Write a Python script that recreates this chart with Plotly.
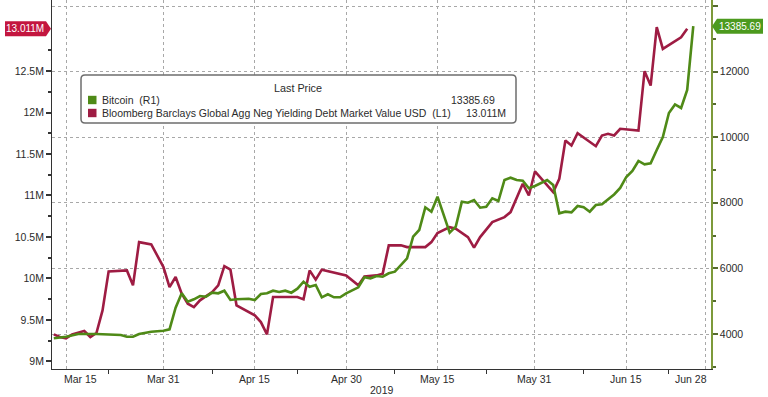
import plotly.graph_objects as go

# ---------------- data ----------------
btc_dates = [
    "2019-03-13", "2019-03-15", "2019-03-17", "2019-03-20", "2019-03-24", "2019-03-25",
    "2019-03-26", "2019-03-27", "2019-03-29", "2019-03-31", "2019-04-01", "2019-04-02",
    "2019-04-03", "2019-04-04", "2019-04-05", "2019-04-06", "2019-04-07", "2019-04-08",
    "2019-04-09", "2019-04-10", "2019-04-11", "2019-04-12", "2019-04-14", "2019-04-15",
    "2019-04-16", "2019-04-17", "2019-04-18", "2019-04-19", "2019-04-20", "2019-04-21",
    "2019-04-22", "2019-04-23", "2019-04-24", "2019-04-25", "2019-04-26", "2019-04-27",
    "2019-04-28", "2019-04-29", "2019-04-30", "2019-05-02", "2019-05-03", "2019-05-04",
    "2019-05-05", "2019-05-06", "2019-05-07", "2019-05-08", "2019-05-10", "2019-05-11",
    "2019-05-12", "2019-05-13", "2019-05-14", "2019-05-15", "2019-05-17", "2019-05-18",
    "2019-05-19", "2019-05-20", "2019-05-21", "2019-05-22", "2019-05-23", "2019-05-24",
    "2019-05-25", "2019-05-26", "2019-05-27", "2019-05-28", "2019-05-29", "2019-05-30",
    "2019-05-31", "2019-06-01", "2019-06-02", "2019-06-03", "2019-06-04", "2019-06-05",
    "2019-06-06", "2019-06-07", "2019-06-08", "2019-06-09", "2019-06-10", "2019-06-11",
    "2019-06-12", "2019-06-13", "2019-06-14", "2019-06-15", "2019-06-16", "2019-06-17",
    "2019-06-18", "2019-06-19", "2019-06-20", "2019-06-21", "2019-06-22", "2019-06-23",
    "2019-06-24", "2019-06-25", "2019-06-26",
]
btc_values = [
    3869, 3918, 4000, 4000, 3970, 3918,
    3918, 4000, 4070, 4101, 4143, 4800,
    5241, 4985, 5058, 5159, 5137, 5259,
    5241, 5320, 5037, 5058, 5076, 5037,
    5220, 5241, 5320, 5281, 5320, 5259,
    5381, 5595, 5442, 5494, 5119, 5210,
    5119, 5119, 5241, 5424, 5729, 5698,
    5768, 5747, 5851, 5900, 6308, 6967,
    7171, 7863, 7729, 8186, 7089, 7272,
    8034, 8003, 8086, 7851, 7881, 8138,
    8055, 8695, 8766, 8695, 8674, 8442,
    8513, 8604, 8695, 8543, 7680, 7729,
    7711, 7903, 7863, 7729, 7933, 7955,
    8107, 8253, 8452, 8787, 8970, 9275,
    9174, 9205, 9610, 10007, 10738, 10998,
    10891, 11440, 13385.69,
]

debt_dates = [
    "2019-03-13", "2019-03-14", "2019-03-15", "2019-03-16", "2019-03-18", "2019-03-19",
    "2019-03-20", "2019-03-21", "2019-03-22", "2019-03-25", "2019-03-26", "2019-03-27",
    "2019-03-29", "2019-03-31", "2019-04-01", "2019-04-02", "2019-04-03", "2019-04-04",
    "2019-04-05", "2019-04-06", "2019-04-08", "2019-04-09", "2019-04-10", "2019-04-11",
    "2019-04-12", "2019-04-15", "2019-04-16", "2019-04-17", "2019-04-18", "2019-04-22",
    "2019-04-23", "2019-04-24", "2019-04-25", "2019-04-26", "2019-04-30", "2019-05-02",
    "2019-05-03", "2019-05-05", "2019-05-06", "2019-05-07", "2019-05-09", "2019-05-10",
    "2019-05-13", "2019-05-14", "2019-05-15", "2019-05-17", "2019-05-18", "2019-05-20",
    "2019-05-21", "2019-05-22", "2019-05-24", "2019-05-26", "2019-05-27", "2019-05-29",
    "2019-05-30", "2019-05-31", "2019-06-03", "2019-06-04", "2019-06-05", "2019-06-06",
    "2019-06-07", "2019-06-10", "2019-06-11", "2019-06-12", "2019-06-13", "2019-06-14",
    "2019-06-17", "2019-06-18", "2019-06-19", "2019-06-20", "2019-06-21", "2019-06-24",
    "2019-06-25",
]
debt_values = [  # USD, shown with "M"
    9.325e6, 9.293e6, 9.277e6, 9.325e6, 9.365e6, 9.293e6,
    9.341e6, 9.614e6, 10.084e6, 10.096e6, 9.916e6, 10.437e6,
    10.410e6, 10.136e6, 9.895e6, 10.016e6, 9.816e6, 9.695e6,
    9.654e6, 9.735e6, 9.835e6, 9.916e6, 10.148e6, 10.105e6,
    9.675e6, 9.554e6, 9.473e6, 9.325e6, 9.775e6, 9.775e6,
    9.747e6, 10.096e6, 9.984e6, 10.105e6, 10.036e6, 9.916e6,
    10.024e6, 10.036e6, 10.057e6, 10.398e6, 10.398e6, 10.377e6,
    10.377e6, 10.437e6, 10.546e6, 10.618e6, 10.599e6, 10.498e6,
    10.370e6, 10.498e6, 10.678e6, 10.739e6, 10.799e6, 11.141e6,
    11.000e6, 11.289e6, 11.040e6, 11.201e6, 11.663e6, 11.602e6,
    11.751e6, 11.594e6, 11.723e6, 11.743e6, 11.723e6, 11.804e6,
    11.783e6, 12.498e6, 12.325e6, 13.030e6, 12.767e6, 12.907e6,
    13.011e6,
]

btc_name = "Bitcoin  (R1)"
debt_name = "Bloomberg Barclays Global Agg Neg Yielding Debt Market Value USD  (L1)"
btc_last_label = "13385.69"
debt_last_label = "13.011M"

x_tick_dates = ["2019-03-15", "2019-03-31", "2019-04-15", "2019-04-30",
                "2019-05-15", "2019-05-31", "2019-06-15", "2019-06-28"]
x_tick_labels = ["Mar 15", "Mar 31", "Apr 15", "Apr 30", "May 15", "May 31", "Jun 15", "Jun 28"]
x_minor_dates = ["2019-03-22", "2019-04-08", "2019-04-22", "2019-05-08",
                 "2019-05-23", "2019-06-08", "2019-06-22"]
year_label = "2019"

left_tickvals = [9.0e6, 9.5e6, 10.0e6, 10.5e6, 11.0e6, 11.5e6, 12.0e6, 12.5e6]
left_ticktext = ["9M", "9.5M", "10M", "10.5M", "11M", "11.5M", "12M", "12.5M"]
left_minor = [9.25e6, 9.75e6, 10.25e6, 10.75e6, 11.25e6, 11.75e6, 12.25e6, 12.75e6]
right_tickvals = [4000, 6000, 8000, 10000, 12000, 14000]
right_ticktext = ["4000", "6000", "8000", "10000", "12000", "14000"]
right_minor = [3000, 5000, 7000, 9000, 11000, 13000]

legend_header = "Last Price"

# ---------------- styling / layout ----------------
W, H = 768, 397
L, R, T, B = 52, 711, 0, 369  # plot area in pixels
FONT = "Liberation Sans, Arial, sans-serif"
TXT = "#2b2b2b"
GREEN = "#4f8a17"
RED = "#9e1c43"
TAG_GREEN = "#4c9a1e"
TAG_RED = "#c3163f"
GRID = "#a8a8a8"


def px(xp):
    return (xp - L) / (R - L)


def py(yp):
    return (B - yp) / (B - T)


fig = go.Figure()
fig.add_trace(go.Scatter(x=btc_dates, y=btc_values, yaxis="y2", mode="lines",
                         line=dict(color=GREEN, width=2.6), name=btc_name))
fig.add_trace(go.Scatter(x=debt_dates, y=debt_values, yaxis="y", mode="lines",
                         line=dict(color=RED, width=2.6), name=debt_name))

left_range = [8.907e6, 13.357e6]
right_range = [2933, 14183]

fig.update_layout(
    width=W, height=H, autosize=False,
    margin=dict(l=L, r=W - R, t=T, b=H - B, autoexpand=False),
    paper_bgcolor="white", plot_bgcolor="white",
    showlegend=False,
    font=dict(family=FONT, size=10.5, color=TXT),
    xaxis=dict(
        type="date", range=["2019-03-12 16:49", "2019-06-28 21:50"],
        tickmode="array", tickvals=x_tick_dates, showticklabels=False, ticks="",
        showgrid=True, gridcolor=GRID, griddash="dot", gridwidth=1,
        showline=True, linecolor="#333", linewidth=1, zeroline=False,
        minor=dict(tickmode="array", tickvals=x_minor_dates, ticks="outside",
                   ticklen=4, tickcolor="#333", showgrid=False),
    ),
    yaxis=dict(
        range=left_range, tickmode="array", tickvals=left_tickvals, ticktext=left_ticktext,
        ticks="outside", ticklen=5, tickwidth=1.5, tickcolor="#333",
        showgrid=False, zeroline=False, showline=True, linecolor="#333", linewidth=1,
        tickfont=dict(size=10.5, color=TXT),
        minor=dict(tickmode="array", tickvals=left_minor, ticks="outside",
                   ticklen=3, tickcolor="#333", showgrid=False),
    ),
    yaxis2=dict(
        range=right_range, overlaying="y", side="right", anchor="x",
        tickmode="array", tickvals=right_tickvals, ticktext=right_ticktext,
        ticks="outside", ticklen=5, tickwidth=1.5, tickcolor="#556b2f",
        showgrid=True, gridcolor=GRID, griddash="dot", gridwidth=1,
        zeroline=False, showline=True, linecolor="#7d9a3a", linewidth=1.5,
        tickfont=dict(size=10.5, color=TXT),
        minor=dict(tickmode="array", tickvals=right_minor, ticks="outside",
                   ticklen=3, tickcolor="#556b2f", showgrid=False),
    ),
)

shapes = []
annotations = []

# x tick labels
for i, (d, lab) in enumerate(zip(x_tick_dates, x_tick_labels)):
    if i == 0:
        xa, xs = "left", -4
    elif i == len(x_tick_dates) - 1:
        xa, xs = "right", 4
    else:
        xa, xs = "center", 0
    annotations.append(dict(x=d, xref="x", y=py(379), yref="paper", text=lab,
                            showarrow=False, xanchor=xa, yanchor="middle", xshift=xs,
                            font=dict(size=10.5, color=TXT)))
annotations.append(dict(x=px(382), xref="paper", y=py(390), yref="paper", text=year_label,
                        showarrow=False, xanchor="center", yanchor="middle",
                        font=dict(size=10.5, color=TXT)))

# last-value tags
debt_last = debt_values[-1]
h_left = 7.5 * (left_range[1] - left_range[0]) / (B - T)
x0, x1, xt = px(5), px(46), px(51)
shapes.append(dict(type="path", xref="paper", yref="y", layer="above",
                   path=f"M {x0},{debt_last + h_left} L {x1},{debt_last + h_left} L {xt},{debt_last} "
                        f"L {x1},{debt_last - h_left} L {x0},{debt_last - h_left} Z",
                   fillcolor=TAG_RED, line=dict(width=0)))
annotations.append(dict(x=(x0 + x1) / 2, xref="paper", y=debt_last, yref="y", text=debt_last_label,
                        showarrow=False, xanchor="center", yanchor="middle",
                        font=dict(size=10, color="white")))

btc_last = btc_values[-1]
h_right = 7.5 * (right_range[1] - right_range[0]) / (B - T)
xt2, x2a, x2b = px(712), px(717), px(763)
shapes.append(dict(type="path", xref="paper", yref="y2", layer="above",
                   path=f"M {xt2},{btc_last} L {x2a},{btc_last + h_right} L {x2b},{btc_last + h_right} "
                        f"L {x2b},{btc_last - h_right} L {x2a},{btc_last - h_right} Z",
                   fillcolor=TAG_GREEN, line=dict(width=0)))
annotations.append(dict(x=(x2a + x2b) / 2, xref="paper", y=btc_last, yref="y2", text=btc_last_label,
                        showarrow=False, xanchor="center", yanchor="middle",
                        font=dict(size=10, color="white")))

# legend box
bx0, bx1, by0, by1, rr = 81, 516, 75, 123, 4
path = (f"M {px(bx0 + rr)},{py(by0)} L {px(bx1 - rr)},{py(by0)} "
        f"Q {px(bx1)},{py(by0)} {px(bx1)},{py(by0 + rr)} "
        f"L {px(bx1)},{py(by1 - rr)} Q {px(bx1)},{py(by1)} {px(bx1 - rr)},{py(by1)} "
        f"L {px(bx0 + rr)},{py(by1)} Q {px(bx0)},{py(by1)} {px(bx0)},{py(by1 - rr)} "
        f"L {px(bx0)},{py(by0 + rr)} Q {px(bx0)},{py(by0)} {px(bx0 + rr)},{py(by0)} Z")
shapes.append(dict(type="path", xref="paper", yref="paper", layer="above", path=path,
                   fillcolor="white", line=dict(color="#6e6e6e", width=1.5)))
annotations.append(dict(x=px(298), xref="paper", y=py(88), yref="paper", text=legend_header,
                        showarrow=False, xanchor="center", yanchor="middle",
                        font=dict(size=10.8, color=TXT)))
rows = [(btc_name, btc_last_label, GREEN, 100, 497), (debt_name, debt_last_label, RED, 113, 508)]
for name, val, col, yc, xr in rows:
    shapes.append(dict(type="rect", xref="paper", yref="paper", layer="above",
                       x0=px(88), x1=px(96.5), y0=py(yc - 4.2), y1=py(yc + 4.2),
                       fillcolor=col, line=dict(width=0)))
    annotations.append(dict(x=px(100), xref="paper", y=py(yc), yref="paper", text=name,
                            showarrow=False, xanchor="left", yanchor="middle",
                            font=dict(size=10.5, color=TXT)))
    annotations.append(dict(x=px(xr), xref="paper", y=py(yc), yref="paper", text=val,
                            showarrow=False, xanchor="right", yanchor="middle",
                            font=dict(size=10.5, color=TXT)))

fig.update_layout(shapes=shapes, annotations=annotations)
fig.write_html("out.html", config={"displayModeBar": False},
               post_script="document.body.style.margin='0px';document.body.style.padding='0px';")
